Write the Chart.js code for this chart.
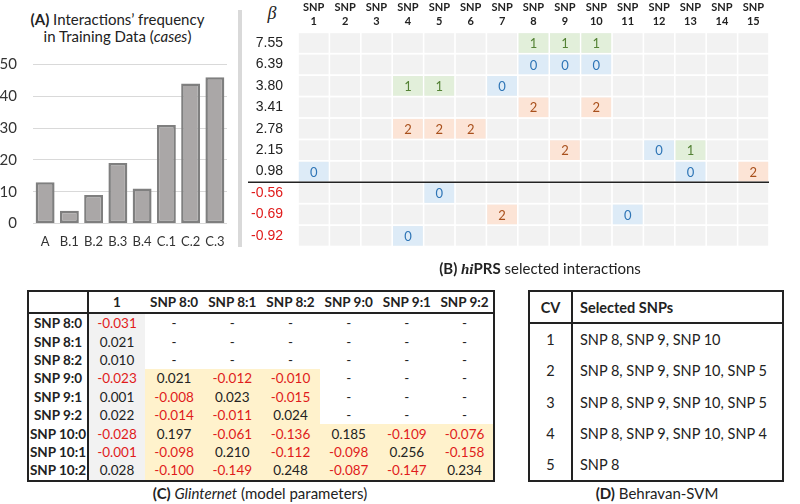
<!DOCTYPE html>
<html>
<head>
<meta charset="utf-8">
<script src="https://cdn.jsdelivr.net/npm/chart.js@4.4.0/dist/chart.umd.min.js"></script>
<style>
  body { margin: 0; width: 800px; height: 504px; position: relative; background: #fff; font-family: Lato, sans-serif; color: #222; overflow: hidden; }
  .abs { position: absolute; }
  #titleA { left: 0; top: 11px; width: 235px; text-align: center; font-size: 15px; line-height: 17px; color: #222; }
  #sep { left: 238px; top: 10px; width: 3.5px; height: 237px; background: #d9d9d9; }
  #beta { left: 262px; top: 3px; width: 20px; text-align: center; font: italic 18px "Liberation Serif", serif; }
  .cap { font-size: 15px; line-height: 18px; text-align: center; }
  #capB { left: 340px; top: 259px; width: 400px; }
  #capC { left: 60px; top: 484px; width: 400px; }
  #capD { left: 557px; top: 484px; width: 200px; }
  table { border-collapse: collapse; table-layout: fixed; }
  #tabC { left: 27px; top: 290px; width: 466px; border: 2px solid #222; font-size: 13.5px; }
  #tabC th, #tabC td { padding: 0; text-align: center; white-space: nowrap; }
  #tabC thead th { height: 20px; border-bottom: 2px solid #222; font-weight: bold; }
  #tabC tbody td { height: 18.4px; }
  #tabC .rh { font-weight: bold; border-right: 2px solid #222; }
  #tabC .one { background: #f2f2f2; }
  #tabC .hl { background: #fff2cc; }
  .neg { color: #e01b1b; }
  #tabD { left: 528px; top: 290px; width: 256px; border: 2px solid #222; font-size: 14.5px; }
  #tabD th, #tabD td { padding: 0; white-space: nowrap; }
  #tabD thead th { height: 30px; border-bottom: 2px solid #222; font-weight: bold; }
  #tabD tbody td { height: 31.3px; }
  #tabD .cv { text-align: center; border-right: 2px solid #222; }
  #tabD .sn { text-align: left; padding-left: 7px; }
</style>
</head>
<body>

<div id="titleA" class="abs"><b>(A)</b> Interactions’ frequency<br>in Training Data (<i>cases</i>)</div>
<div class="abs" style="left:0;top:0;width:236px;height:250px"><canvas id="chartA"></canvas></div>
<div id="sep" class="abs"></div>

<div id="beta" class="abs">β</div>
<div class="abs" style="left:245px;top:0;width:555px;height:262px"><canvas id="chartB"></canvas></div>
<div id="capB" class="abs cap"><b>(B) <i style="font-family:'Liberation Serif',serif">hi</i>PRS</b> selected interactions</div>

<table id="tabC" class="abs"><colgroup id="colsC"></colgroup><thead id="headC"></thead><tbody id="bodyC"></tbody></table>
<div id="capC" class="abs cap"><b>(C)</b> <i>Glinternet</i> (model parameters)</div>

<table id="tabD" class="abs"><colgroup><col style="width:43px"><col></colgroup><thead><tr><th class="cv">CV</th><th class="sn">Selected SNPs</th></tr></thead><tbody id="bodyD"></tbody></table>
<div id="capD" class="abs cap"><b>(D)</b> Behravan-SVM</div>

<script>
// (A) frequency of each interaction in training cases
const groups = ['A', 'B.1', 'B.2', 'B.3', 'B.4', 'C.1', 'C.2', 'C.3'];
const counts = [13, 4, 9, 19, 11, 31, 44, 46];

// (B) hiPRS selected interactions
const snps = [1, 2, 3, 4, 5, 6, 7, 8, 9, 10, 11, 12, 13, 14, 15];
const betas = ['7.55', '6.39', '3.80', '3.41', '2.78', '2.15', '0.98', '-0.56', '-0.69', '-0.92'];
const selBeta = ['7.55', '7.55', '7.55', '6.39', '6.39', '6.39', '3.80', '3.80', '3.80', '3.41', '3.41',
                 '2.78', '2.78', '2.78', '2.15', '2.15', '2.15', '0.98', '0.98', '0.98', '-0.56', '-0.69', '-0.69', '-0.92'];
const selSnp  = [8, 9, 10, 8, 9, 10, 4, 5, 7, 8, 10, 4, 5, 6, 9, 12, 13, 1, 13, 15, 5, 7, 11, 4];
const selCode = [1, 1, 1, 0, 0, 0, 1, 1, 0, 2, 2, 2, 2, 2, 2, 0, 1, 0, 0, 2, 0, 2, 0, 0];

// (C) Glinternet model parameters
const glinCols = ['1', 'SNP 8:0', 'SNP 8:1', 'SNP 8:2', 'SNP 9:0', 'SNP 9:1', 'SNP 9:2'];
const glinRows = ['SNP 8:0', 'SNP 8:1', 'SNP 8:2', 'SNP 9:0', 'SNP 9:1', 'SNP 9:2', 'SNP 10:0', 'SNP 10:1', 'SNP 10:2'];
const glinVals = [
  ['-0.031', '-', '-', '-', '-', '-', '-'],
  ['0.021', '-', '-', '-', '-', '-', '-'],
  ['0.010', '-', '-', '-', '-', '-', '-'],
  ['-0.023', '0.021', '-0.012', '-0.010', '-', '-', '-'],
  ['0.001', '-0.008', '0.023', '-0.015', '-', '-', '-'],
  ['0.022', '-0.014', '-0.011', '0.024', '-', '-', '-'],
  ['-0.028', '0.197', '-0.061', '-0.136', '0.185', '-0.109', '-0.076'],
  ['-0.001', '-0.098', '0.210', '-0.112', '-0.098', '0.256', '-0.158'],
  ['0.028', '-0.100', '-0.149', '0.248', '-0.087', '-0.147', '0.234']
];

// (D) Behravan-SVM
const cvFolds = [1, 2, 3, 4, 5];
const cvSnps = ['SNP 8, SNP 9, SNP 10', 'SNP 8, SNP 9, SNP 10, SNP 5', 'SNP 8, SNP 9, SNP 10, SNP 5',
                'SNP 8, SNP 9, SNP 10, SNP 4', 'SNP 8'];

const codeBg = ['#ddebf7', '#e2efda', '#fce4d6'];
const codeFg = ['#2e75b6', '#548235', '#a9501c'];

Chart.defaults.font.family = 'Lato, sans-serif';
Chart.defaults.animation = false;

new Chart(document.getElementById('chartA'), {
  type: 'bar',
  data: {
    labels: groups,
    datasets: [{
      data: counts,
      backgroundColor: '#aaa7a7',
      borderColor: '#7f7f7f',
      borderWidth: 2.5,
      borderSkipped: false,
      barPercentage: 0.78,
      categoryPercentage: 1
    }]
  },
  options: {
    responsive: true,
    maintainAspectRatio: false,
    layout: { padding: { top: 64.5, right: 9, bottom: 0, left: 0 } },
    plugins: { legend: { display: false }, tooltip: { enabled: false } },
    scales: {
      x: {
        grid: { display: false },
        border: { display: false },
        ticks: { color: '#333', font: { size: 13 }, padding: 3, maxRotation: 0, autoSkip: false },
        afterFit: s => { s.height = 26.5; }
      },
      y: {
        min: 0, max: 50,
        grid: { color: '#d9d9d9', drawTicks: false },
        border: { display: false },
        ticks: { stepSize: 10, color: '#333', font: { size: 15 }, padding: 16 },
        afterFit: s => { s.width = 33; }
      }
    }
  }
});

const cellPlugin = {
  id: 'cells',
  beforeDatasetsDraw(chart) {
    const { ctx, scales: { x, y } } = chart;
    const w = x.getPixelForValue(1.5) - x.getPixelForValue(0.5);
    const h = y.getPixelForValue(1) - y.getPixelForValue(0);
    ctx.save();
    ctx.fillStyle = '#f2f2f2';
    betas.forEach((b, i) => {
      snps.forEach(s => {
        const cx = x.getPixelForValue(s), cy = y.getPixelForValue(i);
        ctx.fillRect(cx - w / 2 + 0.8, cy - h / 2 + 0.9, w - 1.6, h - 1.8);
      });
    });
    ctx.font = '13px Lato, sans-serif';
    ctx.textAlign = 'center';
    ctx.textBaseline = 'middle';
    chart.getDatasetMeta(0).data.forEach((pt, i) => {
      const c = selCode[i];
      ctx.fillStyle = codeBg[c];
      ctx.fillRect(pt.x - w / 2 + 0.8, pt.y - h / 2 + 0.9, w - 1.6, h - 1.8);
      ctx.fillStyle = codeFg[c];
      ctx.fillText(String(c), pt.x, pt.y + 1);
    });
    // divider between positive and negative betas
    const i0 = betas.findIndex(b => parseFloat(b) < 0);
    const ly = (y.getPixelForValue(i0 - 1) + y.getPixelForValue(i0)) / 2;
    ctx.strokeStyle = '#222';
    ctx.lineWidth = 1.6;
    ctx.beginPath();
    ctx.moveTo(3, ly);
    ctx.lineTo(x.right, ly);
    ctx.stroke();
    ctx.restore();
  }
};

new Chart(document.getElementById('chartB'), {
  type: 'scatter',
  data: {
    datasets: [{
      data: selSnp.map((s, i) => ({ x: s, y: selBeta[i] })),
      pointRadius: 0,
      pointHoverRadius: 0
    }]
  },
  options: {
    responsive: true,
    maintainAspectRatio: false,
    layout: { padding: { top: 0, right: 31, bottom: 6.7, left: 0 } },
    plugins: { legend: { display: false }, tooltip: { enabled: false } },
    scales: {
      x: {
        type: 'linear',
        position: 'top',
        min: 0.5, max: 15.5,
        afterBuildTicks: s => { s.ticks = snps.map(v => ({ value: v })); },
        grid: { display: false },
        border: { display: false },
        ticks: {
          callback: v => ['SNP', String(v)],
          color: '#222',
          font: { size: 11, weight: 'bold', lineHeight: 1.25 },
          padding: -4,
          maxRotation: 0,
          autoSkip: false
        },
        afterFit: s => { s.height = 32.3; }
      },
      y: {
        type: 'category',
        labels: betas,
        offset: true,
        grid: { display: false },
        border: { display: false },
        ticks: {
          color: c => parseFloat(betas[c.index]) < 0 ? '#e01b1b' : '#222',
          font: { family: '"Liberation Sans", Arial, sans-serif', size: 14 },
          padding: 7,
          autoSkip: false
        },
        afterFit: s => { s.width = 53; }
      }
    }
  },
  plugins: [cellPlugin]
});

// table (C)
const colsC = document.getElementById('colsC');
[60, 57, 58.2, 58.2, 58.2, 58.2, 58.2, 58.2].forEach(w => {
  const c = document.createElement('col'); c.style.width = w + 'px'; colsC.appendChild(c);
});
let html = '<tr><th class="rh"></th>' + glinCols.map(c => '<th>' + c + '</th>').join('') + '</tr>';
document.getElementById('headC').innerHTML = html;
html = '';
glinRows.forEach((r, i) => {
  html += '<tr><td class="rh">' + r + '</td>';
  glinVals[i].forEach((v, j) => {
    const cls = [];
    if (j === 0) cls.push('one');
    else if (v !== '-') cls.push('hl');
    if (v.length > 1 && v[0] === '-') cls.push('neg');
    html += '<td class="' + cls.join(' ') + '">' + v + '</td>';
  });
  html += '</tr>';
});
document.getElementById('bodyC').innerHTML = html;

// table (D)
document.getElementById('bodyD').innerHTML = cvFolds.map((f, i) =>
  '<tr><td class="cv">' + f + '</td><td class="sn">' + cvSnps[i] + '</td></tr>').join('');
</script>
</body>
</html>
